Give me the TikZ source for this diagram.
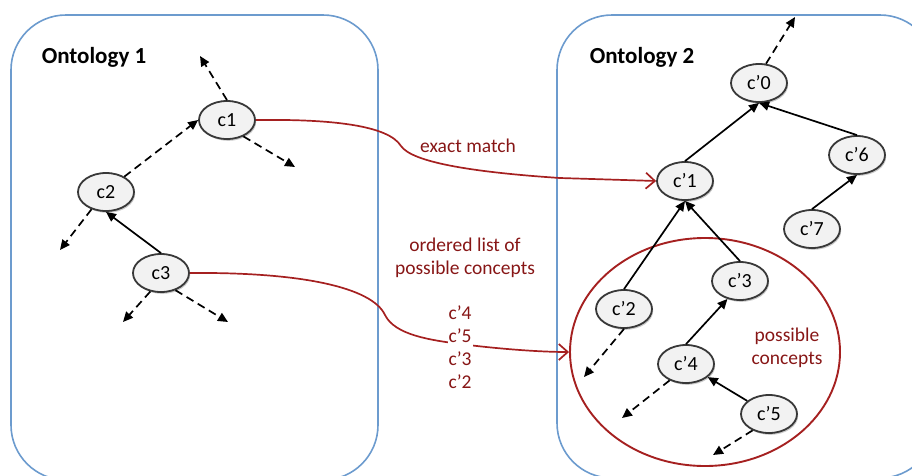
\documentclass[tikz,border=0pt]{standalone}
\usepackage{fontspec}
\setmainfont{Carlito}
\usetikzlibrary{shapes.geometric,arrows.meta,shadows}
\definecolor{boxblue}{RGB}{108,155,206}
\definecolor{curvered}{RGB}{165,32,32}
\definecolor{textred}{RGB}{135,22,22}
\definecolor{nodefill}{RGB}{242,242,242}
\tikzset{
  concept/.style={ellipse, draw=black!78, line width=1.8pt, fill=nodefill,
    minimum width=56pt, minimum height=38pt, inner sep=0pt, font=\fontsize{20}{20}\selectfont,
    drop shadow={shadow xshift=1.2pt, shadow yshift=-1.8pt, opacity=0.35, fill=black!60}},
  ontbox/.style={draw=boxblue, line width=1.6pt, rounded corners=55pt},
  isa/.style={draw=black, line width=1.7pt, -{Triangle[length=10pt,width=9pt]}},
  dasharrow/.style={isa, dash pattern=on 8pt off 5pt},
  matcharrow/.style={draw=curvered, line width=1.7pt, -{Straight Barb[length=9pt,width=16pt]}},
  redlabel/.style={text=textred, font=\fontsize{19.5}{23}\selectfont, align=center},
  ontlabel/.style={font=\fontsize{23}{23}\selectfont\bfseries}
}
\begin{document}
\begin{tikzpicture}[x=1pt,y=-1pt]
\useasboundingbox (0,0) rectangle (912,475);
\clip (0,0) rectangle (912,475);
% boxes
\draw[ontbox] (11,15) rectangle (378,480);
\draw[ontbox] (557,15) rectangle (935,478);
\node[ontlabel] (o1) at (94,57) {Ontology 1};
\node[ontlabel] (o2) at (642,57) {Ontology 2};

% possible concepts ellipse
\node[ellipse, draw=curvered, line width=1.9pt, minimum width=270pt, minimum height=228pt, inner sep=0pt] (pc) at (705,352) {};
\node[redlabel] (pclab) at (787,348) {possible\\concepts};

% left nodes
\node[concept] (c1) at (227,120) {c1};
\node[concept] (c2) at (106,192) {c2};
\node[concept] (c3) at (161,273) {c3};

% right nodes
\node[concept] (p0) at (759,83) {c’0};
\node[concept] (p1) at (685,181) {c'1};
\node[concept] (p6) at (857,155) {c’6};
\node[concept] (p7) at (812,229) {c’7};
\node[concept] (p3) at (740,281) {c’3};
\node[concept] (p2) at (624,309) {c'2};
\node[concept] (p4) at (686,364) {c’4};
\node[concept] (p5) at (769,414) {c’5};

% free ends
\coordinate (t1a) at (200,56);
\coordinate (t1b) at (295,167);
\coordinate (t2a) at (60,250);
\coordinate (t3a) at (123,322);
\coordinate (t3b) at (228,322);
\coordinate (tp0) at (795,17);
\coordinate (tp2) at (584,377);
\coordinate (tp4) at (622,418);
\coordinate (tp5) at (713,455);

% left edges
\draw[dasharrow] (c1.north) -- (t1a);
\draw[dasharrow] (c1.-45) -- (t1b);
\draw[dasharrow] (c2.40) -- (c1.west);
\draw[dasharrow] (c2.-130) -- (t2a);
\draw[isa] (c3.north) -- (c2.south);
\draw[dasharrow] (c3.-120) -- (t3a);
\draw[dasharrow] (c3.-50) -- (t3b);

% right edges
\draw[dasharrow] (p0.70) -- (tp0);
\draw[isa] (p1.north) -- (p0.south);
\draw[isa] (p6.north) -- (p0.south);
\draw[isa] (p7.north) -- (p6.south);
\draw[isa] (p2.north) -- (p1.south);
\draw[isa] (p3.north) -- (p1.south);
\draw[isa] (p4.north) -- (p3.-125);
\draw[isa] (p5) -- (p4);
\draw[dasharrow] (p2.south) -- (tp2);
\draw[dasharrow] (p4.-135) -- (tp4);
\draw[dasharrow] (p5.-135) -- (tp5);

% matching curves
\draw[matcharrow] (c1.east) .. controls (330,119) and (388,125) .. (401,146)
  .. controls (412,162) and (470,172) .. (560,178) -- (p1.west);
\node[redlabel] (em) at (468,146) {exact match};
\draw[matcharrow] (c3.east) .. controls (300,272) and (372,287) .. (385,315)
  .. controls (395,335) and (430,340) .. (460,344) .. controls (500,349) and (540,352) .. (pc.west);
\node[redlabel] (ol) at (465,258) {ordered list of\\possible concepts};
\node[redlabel, fill=white, inner sep=1pt] (lst) at (460,347) {c’4\\c’5\\c’3\\c’2};
\end{tikzpicture}
\end{document}
